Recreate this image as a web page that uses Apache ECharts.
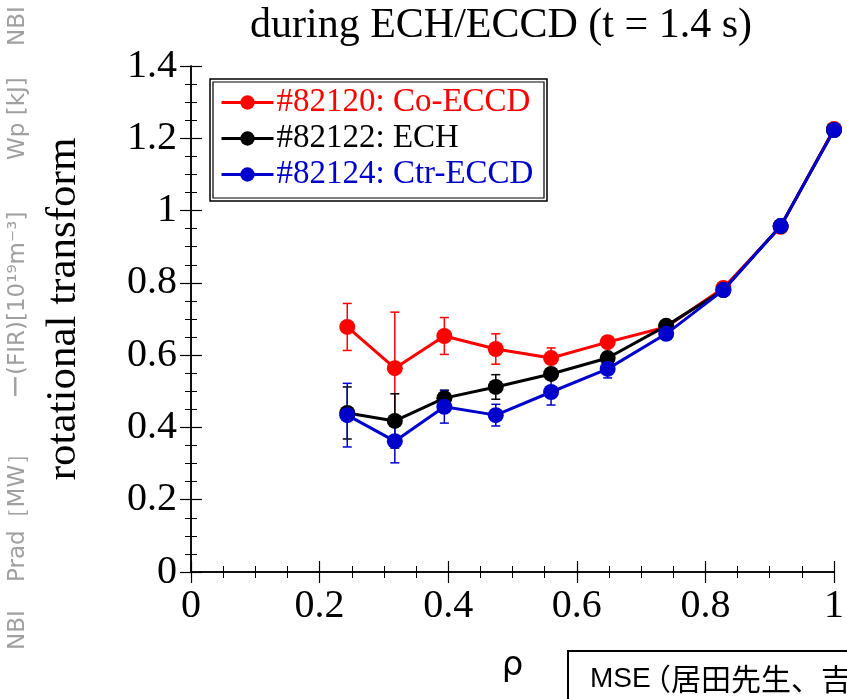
<!DOCTYPE html>
<html><head><meta charset="utf-8">
<script src="https://cdn.jsdelivr.net/npm/echarts@6/dist/echarts.min.js"></script>
<style>html,body{margin:0;padding:0;background:#fff}#c{width:847px;height:699px}</style>
</head><body><div id="c"></div>
<script>
const rho = [0.243, 0.317, 0.394, 0.474, 0.560, 0.648, 0.739, 0.828, 0.917, 1.0];
const coValues  = [0.678, 0.564, 0.653, 0.617, 0.592, 0.636, 0.678, 0.786, 0.955, 1.226];
const coErr     = [0.065, 0.155, 0.051, 0.042, 0.028, 0.012, 0, 0, 0, 0];
const echValues = [0.440, 0.418, 0.481, 0.512, 0.548, 0.592, 0.681, 0.780, 0.957, 1.223];
const echErr    = [0.072, 0.075, 0.022, 0.034, 0.010, 0.010, 0, 0, 0, 0];
const ctrValues = [0.434, 0.362, 0.457, 0.434, 0.498, 0.562, 0.659, 0.780, 0.957, 1.223];
const ctrErr    = [0.088, 0.060, 0.045, 0.030, 0.036, 0.025, 0, 0, 0, 0];
const seriesNames = ['#82120: Co-ECCD', '#82122: ECH', '#82124: Ctr-ECCD'];
const seriesColors = ['#ff0000', '#000000', '#0000cc'];
const xTicks = [0, 0.2, 0.4, 0.6, 0.8, 1];
const yTicks = [0, 0.2, 0.4, 0.6, 0.8, 1, 1.2, 1.4];

const serif = '"Liberation Serif", "DejaVu Serif", serif';
const values = [coValues, echValues, ctrValues];
const errs = [coErr, echErr, ctrErr];

function fmt(v){ return String(Math.round(v*10)/10); }

const chart = echarts.init(document.getElementById('c'), null, {renderer:'canvas'});
const series = [];
// error bars
values.forEach((vals, si) => {
  const data = rho.map((x, i) => [x, vals[i] - errs[si][i], vals[i] + errs[si][i]]).filter((d, i) => errs[si][i] > 0);
  series.push({
    type: 'custom', name: 'err' + si, xAxisIndex: 0, yAxisIndex: 0, z: 2 + si,
    clip: false, silent: true,
    renderItem: function(params, api){
      const lo = api.coord([api.value(0), api.value(1)]);
      const hi = api.coord([api.value(0), api.value(2)]);
      const w = 4.5;
      const st = {stroke: seriesColors[si], lineWidth: 1.5};
      return {type: 'group', children: [
        {type: 'line', shape: {x1: lo[0], y1: lo[1], x2: hi[0], y2: hi[1]}, style: st},
        {type: 'line', shape: {x1: lo[0]-w, y1: lo[1], x2: lo[0]+w, y2: lo[1]}, style: st},
        {type: 'line', shape: {x1: hi[0]-w, y1: hi[1], x2: hi[0]+w, y2: hi[1]}, style: st}
      ]};
    },
    encode: {x: 0, y: [1, 2]},
    data: data
  });
});
values.forEach((vals, si) => {
  series.push({
    type: 'line', name: seriesNames[si], xAxisIndex: 0, yAxisIndex: 0, z: 5 + si,
    data: rho.map((x, i) => [x, vals[i]]),
    symbol: 'circle', symbolSize: 16, clip: false,
    lineStyle: {color: seriesColors[si], width: 3},
    itemStyle: {color: seriesColors[si]},
    emphasis: {disabled: true}
  });
});

const baseAxisX = {
  type: 'value', min: 0, max: 1, interval: 0.2,
  axisLine: {show: true, lineStyle: {color: '#000', width: 1.5}},
  axisTick: {show: true, inside: true, length: 11, lineStyle: {color: '#000', width: 1.2}},
  minorTick: {show: true, splitNumber: 4, length: 6, lineStyle: {color: '#000', width: 1}},
  splitLine: {show: false}
};
const baseAxisY = {
  type: 'value', min: 0, max: 1.4, interval: 0.2,
  axisLine: {show: true, lineStyle: {color: '#000', width: 1.5}},
  axisTick: {show: true, inside: true, length: 11, lineStyle: {color: '#000', width: 1.2}},
  minorTick: {show: true, splitNumber: 4, length: 6, lineStyle: {color: '#000', width: 1}},
  splitLine: {show: false}
};

const grayFont = '23px "DejaVu Sans", sans-serif';
function sideText(txt, y){
  return {type: 'text', x: 30, y: y, rotation: Math.PI/2,
    style: {text: txt, font: grayFont, fill: '#a0a0a0', textAlign: 'left', textVerticalAlign: 'bottom'}, z: 1};
}

const option = {
  animation: false,
  backgroundColor: '#fff',
  title: {
    text: 'during ECH/ECCD (t = 1.4 s)', left: 496, top: 0, textAlign: 'center',
    textStyle: {fontFamily: serif, fontSize: 42, fontWeight: 'normal', color: '#000'}
  },
  grid: {left: 191, right: 9, top: 66, bottom: 127},
  legend: {
    left: 220, top: 86, orient: 'vertical', itemGap: 3,
    itemWidth: 52, itemHeight: 18,
    padding: 0,
    lineStyle: {width: 3},
    data: seriesNames.map((n, i) => ({name: n, textStyle: {color: seriesColors[i]}})),
    textStyle: {fontFamily: serif, fontSize: 33, lineHeight: 33, padding: [0, 0, 0, -2]}
  },
  xAxis: [
    Object.assign({}, baseAxisX, {
      position: 'bottom',
      axisLabel: {show: true, margin: 14, fontFamily: serif, fontSize: 40, color: '#000', formatter: fmt},
      name: 'ρ', nameLocation: 'middle', nameGap: 77,
      nameTextStyle: {fontFamily: '"DejaVu Sans", sans-serif', fontSize: 34, color: '#000', padding: [0, 0, 0, 0]}
    }),
    Object.assign({}, baseAxisX, {position: 'top', axisLabel: {show: false}})
  ],
  yAxis: [
    Object.assign({}, baseAxisY, {
      position: 'left',
      axisLabel: {show: true, margin: 14, fontFamily: serif, fontSize: 40, color: '#000', formatter: fmt},
      name: 'rotational transform', nameLocation: 'middle', nameGap: 106, nameRotate: 90,
      nameTextStyle: {fontFamily: serif, fontSize: 43, color: '#000', padding: [0, 0, 0, 20]}
    }),
    Object.assign({}, baseAxisY, {position: 'right', axisLabel: {show: false}})
  ],
  graphic: [
    {type: 'rect', shape: {x: 210, y: 79, width: 337, height: 122}, style: {fill: 'none', stroke: '#000', lineWidth: 1.5}, z: 100},
    {type: 'rect', shape: {x: 213, y: 82, width: 331, height: 116}, style: {fill: 'none', stroke: '#000', lineWidth: 1.2}, z: 100},
    {type: 'rect', shape: {x: 568, y: 651, width: 300, height: 60}, style: {fill: '#fff', stroke: '#000', lineWidth: 2}, z: 100},
    {type: 'text', style: {x: 590, y: 679, text: 'MSE', font: '28px "Liberation Sans", sans-serif', fill: '#000', textVerticalAlign: 'middle'}, z: 101},
    {type: 'text', style: {x: 641, y: 679, text: '（居田先生、吉', font: '30px "Noto Sans CJK JP", sans-serif', fill: '#000', textVerticalAlign: 'middle'}, z: 101},
    sideText('NBI', 650),
    sideText('Prad［MW］', 582),
    sideText('ー(FIR)[10¹⁹m⁻³]', 398),
    sideText('Wp [kJ]', 160),
    sideText('NBI', 46)
  ],
  series: series
};
chart.setOption(option);
</script>
</body></html>
